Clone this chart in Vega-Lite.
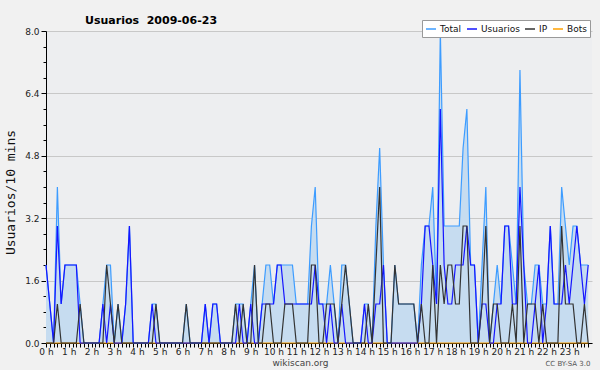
{
  "$schema": "https://vega.github.io/schema/vega-lite/v6.json",
  "autosize": "none",
  "padding": {"left": 46, "top": 31, "right": 8, "bottom": 27},
  "width": 546,
  "height": 312,
  "background": "#f1f1f1",
  "title": {"text": "Usuarios\u00a0 2009-06-23", "anchor": "start", "dx": 81, "offset": -6, "font": "DejaVu Sans", "fontSize": 11, "fontWeight": "bold", "color": "#000"},
  "config": {
    "view": {"stroke": null, "fill": "#edeef0"},
    "axis": {"labelFont": "DejaVu Sans", "labelFontSize": 9, "labelColor": "#222", "domainColor": "#000", "tickColor": "#000", "titleFont": "DejaVu Sans"}
  },
  "data": {"values": [
    {"t":0,"Total":2,"Usuarios":2,"IP":0,"Bots":0},
    {"t":10,"Total":1,"Usuarios":1,"IP":0,"Bots":0},
    {"t":20,"Total":0,"Usuarios":0,"IP":0,"Bots":0},
    {"t":30,"Total":4,"Usuarios":3,"IP":1,"Bots":0},
    {"t":40,"Total":1,"Usuarios":1,"IP":0,"Bots":0},
    {"t":50,"Total":2,"Usuarios":2,"IP":0,"Bots":0},
    {"t":60,"Total":2,"Usuarios":2,"IP":0,"Bots":0},
    {"t":70,"Total":2,"Usuarios":2,"IP":0,"Bots":0},
    {"t":80,"Total":2,"Usuarios":2,"IP":0,"Bots":0},
    {"t":90,"Total":1,"Usuarios":0,"IP":1,"Bots":0},
    {"t":100,"Total":0,"Usuarios":0,"IP":0,"Bots":0},
    {"t":110,"Total":0,"Usuarios":0,"IP":0,"Bots":0},
    {"t":120,"Total":0,"Usuarios":0,"IP":0,"Bots":0},
    {"t":130,"Total":0,"Usuarios":0,"IP":0,"Bots":0},
    {"t":140,"Total":0,"Usuarios":0,"IP":0,"Bots":0},
    {"t":150,"Total":1,"Usuarios":1,"IP":0,"Bots":0},
    {"t":160,"Total":2,"Usuarios":0,"IP":2,"Bots":0},
    {"t":170,"Total":2,"Usuarios":1,"IP":1,"Bots":0},
    {"t":180,"Total":0,"Usuarios":0,"IP":0,"Bots":0},
    {"t":190,"Total":1,"Usuarios":0,"IP":1,"Bots":0},
    {"t":200,"Total":0,"Usuarios":0,"IP":0,"Bots":0},
    {"t":210,"Total":1,"Usuarios":1,"IP":0,"Bots":0},
    {"t":220,"Total":3,"Usuarios":3,"IP":0,"Bots":0},
    {"t":230,"Total":0,"Usuarios":0,"IP":0,"Bots":0},
    {"t":240,"Total":0,"Usuarios":0,"IP":0,"Bots":0},
    {"t":250,"Total":0,"Usuarios":0,"IP":0,"Bots":0},
    {"t":260,"Total":0,"Usuarios":0,"IP":0,"Bots":0},
    {"t":270,"Total":0,"Usuarios":0,"IP":0,"Bots":0},
    {"t":280,"Total":1,"Usuarios":1,"IP":0,"Bots":0},
    {"t":290,"Total":1,"Usuarios":0,"IP":1,"Bots":0},
    {"t":300,"Total":0,"Usuarios":0,"IP":0,"Bots":0},
    {"t":310,"Total":0,"Usuarios":0,"IP":0,"Bots":0},
    {"t":320,"Total":0,"Usuarios":0,"IP":0,"Bots":0},
    {"t":330,"Total":0,"Usuarios":0,"IP":0,"Bots":0},
    {"t":340,"Total":0,"Usuarios":0,"IP":0,"Bots":0},
    {"t":350,"Total":0,"Usuarios":0,"IP":0,"Bots":0},
    {"t":360,"Total":0,"Usuarios":0,"IP":0,"Bots":0},
    {"t":370,"Total":1,"Usuarios":0,"IP":1,"Bots":0},
    {"t":380,"Total":0,"Usuarios":0,"IP":0,"Bots":0},
    {"t":390,"Total":0,"Usuarios":0,"IP":0,"Bots":0},
    {"t":400,"Total":0,"Usuarios":0,"IP":0,"Bots":0},
    {"t":410,"Total":0,"Usuarios":0,"IP":0,"Bots":0},
    {"t":420,"Total":1,"Usuarios":1,"IP":0,"Bots":0},
    {"t":430,"Total":0,"Usuarios":0,"IP":0,"Bots":0},
    {"t":440,"Total":1,"Usuarios":1,"IP":0,"Bots":0},
    {"t":450,"Total":1,"Usuarios":1,"IP":0,"Bots":0},
    {"t":460,"Total":0,"Usuarios":0,"IP":0,"Bots":0},
    {"t":470,"Total":0,"Usuarios":0,"IP":0,"Bots":0},
    {"t":480,"Total":0,"Usuarios":0,"IP":0,"Bots":0},
    {"t":490,"Total":0,"Usuarios":0,"IP":0,"Bots":0},
    {"t":500,"Total":1,"Usuarios":0,"IP":1,"Bots":0},
    {"t":510,"Total":1,"Usuarios":1,"IP":0,"Bots":0},
    {"t":520,"Total":1,"Usuarios":0,"IP":1,"Bots":0},
    {"t":530,"Total":0,"Usuarios":0,"IP":0,"Bots":0},
    {"t":540,"Total":1,"Usuarios":1,"IP":0,"Bots":0},
    {"t":550,"Total":2,"Usuarios":0,"IP":2,"Bots":0},
    {"t":560,"Total":0,"Usuarios":0,"IP":0,"Bots":0},
    {"t":570,"Total":1,"Usuarios":1,"IP":0,"Bots":0},
    {"t":580,"Total":2,"Usuarios":1,"IP":1,"Bots":0},
    {"t":590,"Total":2,"Usuarios":1,"IP":1,"Bots":0},
    {"t":600,"Total":1,"Usuarios":1,"IP":0,"Bots":0},
    {"t":610,"Total":2,"Usuarios":2,"IP":0,"Bots":0},
    {"t":620,"Total":2,"Usuarios":2,"IP":0,"Bots":0},
    {"t":630,"Total":2,"Usuarios":1,"IP":1,"Bots":0},
    {"t":640,"Total":2,"Usuarios":1,"IP":1,"Bots":0},
    {"t":650,"Total":2,"Usuarios":1,"IP":1,"Bots":0},
    {"t":660,"Total":1,"Usuarios":1,"IP":0,"Bots":0},
    {"t":670,"Total":1,"Usuarios":1,"IP":0,"Bots":0},
    {"t":680,"Total":1,"Usuarios":1,"IP":0,"Bots":0},
    {"t":690,"Total":1,"Usuarios":1,"IP":0,"Bots":0},
    {"t":700,"Total":3,"Usuarios":1,"IP":2,"Bots":0},
    {"t":710,"Total":4,"Usuarios":2,"IP":2,"Bots":0},
    {"t":720,"Total":1,"Usuarios":1,"IP":0,"Bots":0},
    {"t":730,"Total":1,"Usuarios":1,"IP":0,"Bots":0},
    {"t":740,"Total":1,"Usuarios":0,"IP":1,"Bots":0},
    {"t":750,"Total":2,"Usuarios":1,"IP":1,"Bots":0},
    {"t":760,"Total":1,"Usuarios":0,"IP":1,"Bots":0},
    {"t":770,"Total":0,"Usuarios":0,"IP":0,"Bots":0},
    {"t":780,"Total":2,"Usuarios":1,"IP":1,"Bots":0},
    {"t":790,"Total":2,"Usuarios":0,"IP":2,"Bots":0},
    {"t":800,"Total":1,"Usuarios":0,"IP":1,"Bots":0},
    {"t":810,"Total":0,"Usuarios":0,"IP":0,"Bots":0},
    {"t":820,"Total":0,"Usuarios":0,"IP":0,"Bots":0},
    {"t":830,"Total":0,"Usuarios":0,"IP":0,"Bots":0},
    {"t":840,"Total":1,"Usuarios":1,"IP":0,"Bots":0},
    {"t":850,"Total":1,"Usuarios":0,"IP":1,"Bots":0},
    {"t":860,"Total":0,"Usuarios":0,"IP":0,"Bots":0},
    {"t":870,"Total":3,"Usuarios":1,"IP":2,"Bots":0},
    {"t":880,"Total":5,"Usuarios":1,"IP":4,"Bots":0},
    {"t":890,"Total":2,"Usuarios":2,"IP":0,"Bots":0},
    {"t":900,"Total":0,"Usuarios":0,"IP":0,"Bots":0},
    {"t":910,"Total":0,"Usuarios":0,"IP":0,"Bots":0},
    {"t":920,"Total":2,"Usuarios":0,"IP":2,"Bots":0},
    {"t":930,"Total":1,"Usuarios":0,"IP":1,"Bots":0},
    {"t":940,"Total":1,"Usuarios":0,"IP":1,"Bots":0},
    {"t":950,"Total":1,"Usuarios":0,"IP":1,"Bots":0},
    {"t":960,"Total":1,"Usuarios":0,"IP":1,"Bots":0},
    {"t":970,"Total":1,"Usuarios":0,"IP":1,"Bots":0},
    {"t":980,"Total":0,"Usuarios":0,"IP":0,"Bots":0},
    {"t":990,"Total":2,"Usuarios":1,"IP":1,"Bots":0},
    {"t":1000,"Total":3,"Usuarios":3,"IP":0,"Bots":0},
    {"t":1010,"Total":3,"Usuarios":3,"IP":0,"Bots":0},
    {"t":1020,"Total":4,"Usuarios":2,"IP":2,"Bots":0},
    {"t":1030,"Total":1,"Usuarios":1,"IP":0,"Bots":0},
    {"t":1040,"Total":8,"Usuarios":6,"IP":2,"Bots":0},
    {"t":1050,"Total":3,"Usuarios":2,"IP":1,"Bots":0},
    {"t":1060,"Total":3,"Usuarios":1,"IP":2,"Bots":0},
    {"t":1070,"Total":3,"Usuarios":1,"IP":2,"Bots":0},
    {"t":1080,"Total":3,"Usuarios":2,"IP":1,"Bots":0},
    {"t":1090,"Total":3,"Usuarios":2,"IP":1,"Bots":0},
    {"t":1100,"Total":5,"Usuarios":2,"IP":3,"Bots":0},
    {"t":1110,"Total":6,"Usuarios":3,"IP":3,"Bots":0},
    {"t":1120,"Total":2,"Usuarios":2,"IP":0,"Bots":0},
    {"t":1130,"Total":2,"Usuarios":2,"IP":0,"Bots":0},
    {"t":1140,"Total":0,"Usuarios":0,"IP":0,"Bots":0},
    {"t":1150,"Total":2,"Usuarios":1,"IP":1,"Bots":0},
    {"t":1160,"Total":4,"Usuarios":1,"IP":3,"Bots":0},
    {"t":1170,"Total":0,"Usuarios":0,"IP":0,"Bots":0},
    {"t":1180,"Total":1,"Usuarios":0,"IP":1,"Bots":0},
    {"t":1190,"Total":2,"Usuarios":1,"IP":1,"Bots":0},
    {"t":1200,"Total":1,"Usuarios":1,"IP":0,"Bots":0},
    {"t":1210,"Total":3,"Usuarios":3,"IP":0,"Bots":0},
    {"t":1220,"Total":3,"Usuarios":3,"IP":0,"Bots":0},
    {"t":1230,"Total":2,"Usuarios":1,"IP":1,"Bots":0},
    {"t":1240,"Total":1,"Usuarios":1,"IP":0,"Bots":0},
    {"t":1250,"Total":7,"Usuarios":4,"IP":3,"Bots":0},
    {"t":1260,"Total":2,"Usuarios":2,"IP":0,"Bots":0},
    {"t":1270,"Total":1,"Usuarios":0,"IP":1,"Bots":0},
    {"t":1280,"Total":1,"Usuarios":0,"IP":1,"Bots":0},
    {"t":1290,"Total":2,"Usuarios":1,"IP":1,"Bots":0},
    {"t":1300,"Total":2,"Usuarios":2,"IP":0,"Bots":0},
    {"t":1310,"Total":1,"Usuarios":0,"IP":1,"Bots":0},
    {"t":1320,"Total":1,"Usuarios":1,"IP":0,"Bots":0},
    {"t":1330,"Total":3,"Usuarios":3,"IP":0,"Bots":0},
    {"t":1340,"Total":1,"Usuarios":1,"IP":0,"Bots":0},
    {"t":1350,"Total":1,"Usuarios":1,"IP":0,"Bots":0},
    {"t":1360,"Total":4,"Usuarios":1,"IP":3,"Bots":0},
    {"t":1370,"Total":3,"Usuarios":2,"IP":1,"Bots":0},
    {"t":1380,"Total":2,"Usuarios":1,"IP":1,"Bots":0},
    {"t":1390,"Total":3,"Usuarios":2,"IP":1,"Bots":0},
    {"t":1400,"Total":3,"Usuarios":3,"IP":0,"Bots":0},
    {"t":1410,"Total":2,"Usuarios":2,"IP":0,"Bots":0},
    {"t":1420,"Total":2,"Usuarios":1,"IP":1,"Bots":0},
    {"t":1430,"Total":2,"Usuarios":2,"IP":0,"Bots":0}
  ]},
  "encoding": {
    "x": {
      "field": "t", "type": "quantitative",
      "scale": {"domain": [0, 1440], "nice": false, "zero": false},
      "axis": {
        "values": [0,10,20,30,40,50,60,70,80,90,100,110,120,130,140,150,160,170,180,190,200,210,220,230,240,250,260,270,280,290,300,310,320,330,340,350,360,370,380,390,400,410,420,430,440,450,460,470,480,490,500,510,520,530,540,550,560,570,580,590,600,610,620,630,640,650,660,670,680,690,700,710,720,730,740,750,760,770,780,790,800,810,820,830,840,850,860,870,880,890,900,910,920,930,940,950,960,970,980,990,1000,1010,1020,1030,1040,1050,1060,1070,1080,1090,1100,1110,1120,1130,1140,1150,1160,1170,1180,1190,1200,1210,1220,1230,1240,1250,1260,1270,1280,1290,1300,1310,1320,1330,1340,1350,1360,1370,1380,1390,1400,1410,1420,1430],
        "labelExpr": "datum.value % 60 == 0 ? (datum.value / 60) + ' h' : ''",
        "labelOverlap": false, "labelBound": false, "labelFlush": false,
        "tickSize": 4, "labelPadding": 0, "grid": false,
        "title": "wikiscan.org", "titleX": 254, "titleY": 22, "titleAlign": "center", "titleBaseline": "alphabetic",
        "titleFontSize": 9, "titleFontWeight": "normal", "titleColor": "#444"
      }
    }
  },
  "layer": [
    {
      "mark": {"type": "area", "color": "#c6dcf0", "interpolate": "linear"},
      "encoding": {
        "y": {
          "field": "Total", "type": "quantitative",
          "scale": {"domain": [0, 8], "nice": false},
          "axis": {
            "values": [0,0.4,0.8,1.2,1.6,2,2.4,2.8,3.2,3.6,4,4.4,4.8,5.2,5.6,6,6.4,6.8,7.2,7.6,8],
            "labelExpr": "abs(datum.value/1.6 - round(datum.value/1.6)) < 0.01 ? format(datum.value, '.1f') : ''",
            "labelOverlap": false, "labelFlush": false, "labelBound": false,
            "tickSize": {"condition": {"test": "abs(datum.value/1.6 - round(datum.value/1.6)) < 0.01", "value": 5}, "value": 3},
            "grid": true, "gridColor": "#c8c8c8",
            "gridOpacity": {"condition": {"test": "abs(datum.value/1.6 - round(datum.value/1.6)) < 0.01", "value": 1}, "value": 0},
            "labelPadding": 2,
            "title": "Usuarios/10 mins", "titleFont": "DejaVu Sans Mono", "titleFontSize": 13, "titleFontWeight": "normal",
            "titleColor": "#111", "titleX": -36, "titleY": 161, "titleAlign": "center", "titleBaseline": "middle", "titleAngle": 270
          }
        }
      }
    },
    {
      "mark": {"type": "line", "strokeWidth": 1.2, "interpolate": "linear"},
      "encoding": {
        "y": {
          "field": "Bots", "type": "quantitative",
          "scale": {"domain": [0, 8], "nice": false},
          "axis": {
            "orient": "right", "title": "CC BY-SA 3.0", "titleAngle": 0, "titleX": -2, "titleY": 334,
            "titleAlign": "right", "titleBaseline": "alphabetic", "titleFontSize": 7, "titleFontWeight": "normal",
            "titleColor": "#555", "labels": false, "ticks": false, "domain": false, "grid": false
          }
        },
        "color": {
          "datum": "Bots", "type": "nominal",
          "scale": {"domain": ["Total", "Usuarios", "IP", "Bots"], "range": ["#3d9cff", "#1515ff", "#333333", "#ffa000"]},
          "legend": {
            "title": null, "orient": "none", "legendX": 376, "legendY": -11, "direction": "horizontal",
            "symbolType": "stroke", "symbolSize": 100, "symbolStrokeWidth": 1.5,
            "labelFont": "DejaVu Sans", "labelFontSize": 9, "labelColor": "#111", "labelOffset": 3,
            "columnPadding": 2, "padding": 3, "fillColor": "#ffffff", "strokeColor": "#999999"
          }
        }
      }
    },
    {
      "mark": {"type": "line", "strokeWidth": 1.2, "interpolate": "linear"},
      "encoding": {
        "y": {"field": "Total", "type": "quantitative", "scale": {"domain": [0, 8], "nice": false}, "axis": null},
        "color": {"datum": "Total", "type": "nominal"}
      }
    },
    {
      "mark": {"type": "line", "strokeWidth": 1.2, "interpolate": "linear"},
      "encoding": {
        "y": {"field": "Usuarios", "type": "quantitative", "scale": {"domain": [0, 8], "nice": false}, "axis": null},
        "color": {"datum": "Usuarios", "type": "nominal"}
      }
    },
    {
      "mark": {"type": "line", "strokeWidth": 1.2, "interpolate": "linear"},
      "encoding": {
        "y": {"field": "IP", "type": "quantitative", "scale": {"domain": [0, 8], "nice": false}, "axis": null},
        "color": {"datum": "IP", "type": "nominal"}
      }
    }
  ],
  "resolve": {"axis": {"y": "independent"}}
}
